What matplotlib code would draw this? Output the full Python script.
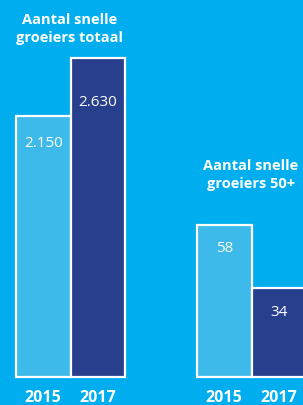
import matplotlib
matplotlib.use("Agg")
import matplotlib.pyplot as plt
from matplotlib.transforms import ScaledTranslation

years = ["2015", "2017"]
totaal = [2150, 2630]
totaal_labels = ["2.150", "2.630"]
plus50 = [58, 34]
plus50_labels = ["58", "34"]
titles = ["Aantal snelle\ngroeiers totaal", "Aantal snelle\ngroeiers 50+"]

bg = "#00AEEF"
light = "#3DBAEA"
dark = "#283F8E"

W, H = 303, 406
fig = plt.figure(figsize=(W / 100, H / 100), dpi=100, facecolor=bg)

def px_axes(x0, x1, ybot, ytop):
    return fig.add_axes([x0 / W, (H - ybot) / H, (x1 - x0) / W, (ybot - ytop) / H])

# (axes pixel box, label pixel offsets below bar top, title centre)
groups = [
    (totaal, totaal_labels, titles[0], (16, 125, 378, 59), [26, 44], (70, 29)),
    (plus50, plus50_labels, titles[1], (197, 306, 378, 226), [23, 24], (251, 175)),
]

for vals, labs, title, (x0, x1, yb, yt), offs, (tx, ty) in groups:
    ax = px_axes(x0, x1, yb, yt)
    ax.set_facecolor("none")
    ax.bar(range(len(vals)), vals, width=1.0, color=[light, dark],
           edgecolor="white", linewidth=1.6, clip_on=False)
    ax.set_xlim(-0.5, 1.5)
    ax.set_ylim(0, max(vals))
    ax.axis("off")
    for i, (v, l) in enumerate(zip(vals, labs)):
        ax.text(i, v, l, ha="center", va="center", color="white",
                fontsize=11, family="Open Sans",
                transform=ax.transData + ScaledTranslation(0, -offs[i] / 100, fig.dpi_scale_trans))
    for i, y in enumerate(years):
        ax.text(i, 0, y, ha="center", va="center", color="white",
                fontsize=11.5, fontweight="bold", family="Open Sans",
                transform=ax.transData + ScaledTranslation(0, -20 / 100, fig.dpi_scale_trans))
    fig.text(tx / W, 1 - ty / H, title, ha="center", va="center", color="white",
             fontsize=10.5, fontweight="bold", family="Open Sans", linespacing=1.4)

fig.savefig("out.png", dpi=100, facecolor=bg)
